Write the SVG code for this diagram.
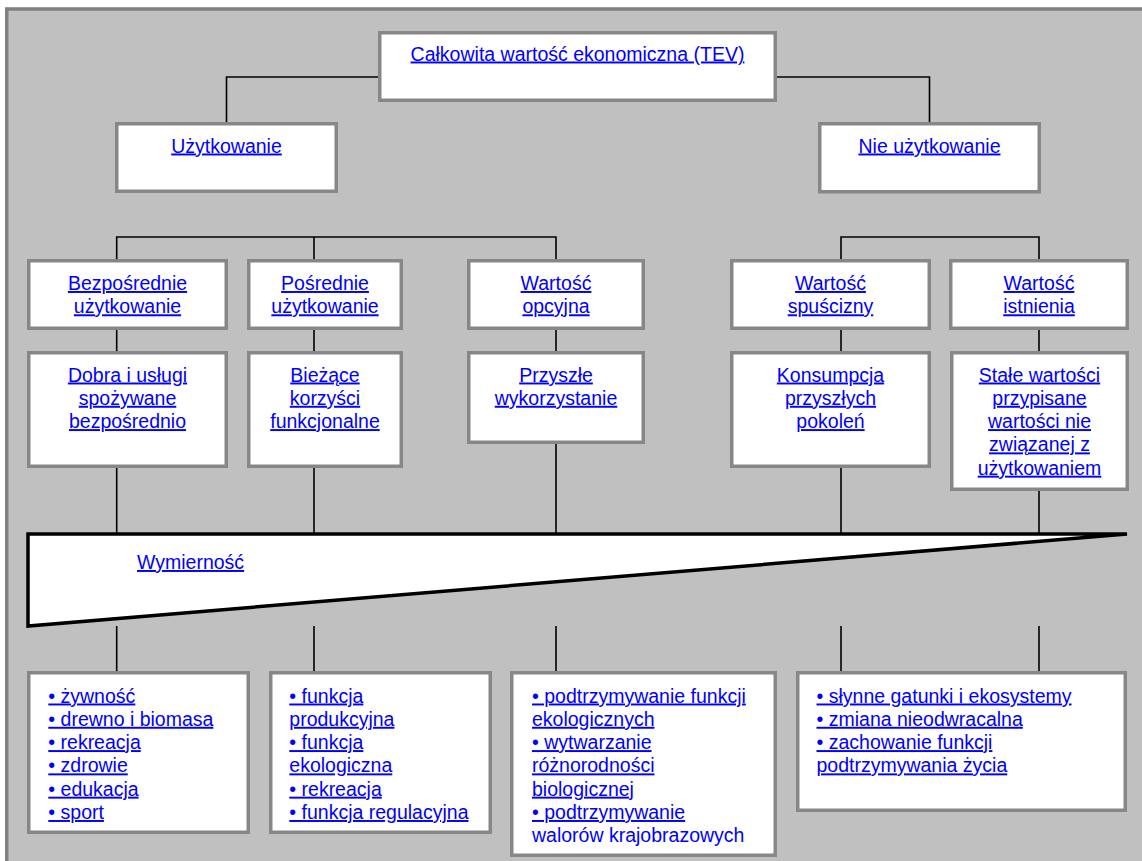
<svg xmlns="http://www.w3.org/2000/svg" width="1142" height="861" viewBox="0 0 1142 861">
  <style>
    .frame { fill: #c0c0c0; stroke: #808080; stroke-width: 3.5; }
    .box { fill: #ffffff; stroke: #878787; stroke-width: 3.5; }
    .lbl { font-family: "Liberation Sans", Arial, sans-serif; font-size: 19.5px; fill: #0000ff; text-decoration: underline; }
    .c { text-anchor: middle; }
    .plain { text-decoration: none; }
    .conn { fill: none; stroke: #000000; stroke-width: 1.6; }
    .wedge { fill: #ffffff; stroke: #000000; stroke-width: 3.5; stroke-linejoin: miter; }
  </style>

  <rect width="1142" height="861" fill="#ffffff"/>
  <rect class="frame" x="6.75" y="9" width="1200" height="900"/>

  <!-- connectors -->
  <g id="connectors">
    <polyline class="conn" points="226.5,122 226.5,77 378,77"/>
    <polyline class="conn" points="777,77 929.5,77 929.5,122"/>

    <polyline class="conn" points="116.7,259 116.7,237 556,237 556,259"/>
    <line class="conn" x1="314" y1="237" x2="314" y2="259"/>
    <polyline class="conn" points="841,259 841,237 1039,237 1039,259"/>

    <line class="conn" x1="116.7" y1="330" x2="116.7" y2="351"/>
    <line class="conn" x1="314" y1="330" x2="314" y2="351"/>
    <line class="conn" x1="556" y1="330" x2="556" y2="351"/>
    <line class="conn" x1="841" y1="330" x2="841" y2="351"/>
    <line class="conn" x1="1039" y1="330" x2="1039" y2="351"/>

    <line class="conn" x1="116.7" y1="468" x2="116.7" y2="534"/>
    <line class="conn" x1="314" y1="468" x2="314" y2="534"/>
    <line class="conn" x1="556" y1="444" x2="556" y2="534"/>
    <line class="conn" x1="841" y1="468" x2="841" y2="534"/>
    <line class="conn" x1="1039" y1="491" x2="1039" y2="534"/>

    <line class="conn" x1="116.7" y1="626" x2="116.7" y2="671"/>
    <line class="conn" x1="314" y1="626" x2="314" y2="671"/>
    <line class="conn" x1="556" y1="626" x2="556" y2="671"/>
    <line class="conn" x1="841" y1="626" x2="841" y2="671"/>
    <line class="conn" x1="1039" y1="626" x2="1039" y2="671"/>
  </g>

  <!-- measurability wedge -->
  <g id="wymiernosc">
    <polygon class="wedge" points="28,534 1127,534 28,626"/>
    <text class="lbl" x="137" y="569">Wymierność</text>
  </g>

  <g id="tev">
    <rect class="box" x="379.75" y="32.75" width="395.5" height="67.5"/>
    <text class="lbl c" x="577.5" y="60.5">Całkowita wartość ekonomiczna (TEV)</text>
  </g>

  <g id="uzytkowanie">
    <rect class="box" x="116.75" y="123.75" width="219.5" height="67.5"/>
    <text class="lbl c" x="226.5" y="152.5">Użytkowanie</text>
  </g>

  <g id="nie-uzytkowanie">
    <rect class="box" x="819.75" y="123.75" width="219.5" height="68"/>
    <text class="lbl c" x="929.5" y="152.5">Nie użytkowanie</text>
  </g>

  <g id="bezposrednie">
    <rect class="box" x="28.75" y="260.75" width="197.5" height="67.5"/>
    <text class="lbl c" x="127.5" y="290">Bezpośrednie</text>
    <text class="lbl c" x="127.5" y="313.3">użytkowanie</text>
  </g>

  <g id="posrednie">
    <rect class="box" x="248.75" y="260.75" width="152.5" height="67.5"/>
    <text class="lbl c" x="325" y="290">Pośrednie</text>
    <text class="lbl c" x="325" y="313.3">użytkowanie</text>
  </g>

  <g id="opcyjna">
    <rect class="box" x="468.75" y="260.75" width="174.5" height="67.5"/>
    <text class="lbl c" x="556" y="290">Wartość</text>
    <text class="lbl c" x="556" y="313.3">opcyjna</text>
  </g>

  <g id="spuscizny">
    <rect class="box" x="731.75" y="260.75" width="197.5" height="67.5"/>
    <text class="lbl c" x="830.5" y="290">Wartość</text>
    <text class="lbl c" x="830.5" y="313.3">spuścizny</text>
  </g>

  <g id="istnienia">
    <rect class="box" x="950.75" y="260.75" width="176.5" height="67.5"/>
    <text class="lbl c" x="1039" y="290">Wartość</text>
    <text class="lbl c" x="1039" y="313.3">istnienia</text>
  </g>

  <g id="dobra-uslugi">
    <rect class="box" x="28.75" y="352.75" width="197.5" height="113.5"/>
    <text class="lbl c" x="127.5" y="381.5">Dobra i usługi</text>
    <text class="lbl c" x="127.5" y="404.8">spożywane</text>
    <text class="lbl c" x="127.5" y="428.1">bezpośrednio</text>
  </g>

  <g id="biezace">
    <rect class="box" x="248.75" y="352.75" width="152.5" height="113.5"/>
    <text class="lbl c" x="325" y="381.5">Bieżące</text>
    <text class="lbl c" x="325" y="404.8">korzyści</text>
    <text class="lbl c" x="325" y="428.1">funkcjonalne</text>
  </g>

  <g id="przyszle">
    <rect class="box" x="468.75" y="352.75" width="174.5" height="89.5"/>
    <text class="lbl c" x="556" y="381.5">Przyszłe</text>
    <text class="lbl c" x="556" y="404.8">wykorzystanie</text>
  </g>

  <g id="konsumpcja">
    <rect class="box" x="731.75" y="352.75" width="197.5" height="113.5"/>
    <text class="lbl c" x="830.5" y="381.5">Konsumpcja</text>
    <text class="lbl c" x="830.5" y="404.8">przyszłych</text>
    <text class="lbl c" x="830.5" y="428.1">pokoleń</text>
  </g>

  <g id="stale-wartosci">
    <rect class="box" x="951.75" y="352.75" width="175.5" height="136.5"/>
    <text class="lbl c" x="1039.5" y="381.5">Stałe wartości</text>
    <text class="lbl c" x="1039.5" y="404.8">przypisane</text>
    <text class="lbl c" x="1039.5" y="428.1">wartości nie</text>
    <text class="lbl c" x="1039.5" y="451.4">związanej z</text>
    <text class="lbl c" x="1039.5" y="474.7">użytkowaniem</text>
  </g>

  <g id="lista-bezposrednie">
    <rect class="box" x="28.75" y="672.75" width="219.5" height="159.5"/>
    <text class="lbl" x="48.3" y="702.5">• żywność</text>
    <text class="lbl" x="48.3" y="725.8">• drewno i biomasa</text>
    <text class="lbl" x="48.3" y="749.1">• rekreacja</text>
    <text class="lbl" x="48.3" y="772.4">• zdrowie</text>
    <text class="lbl" x="48.3" y="795.7">• edukacja</text>
    <text class="lbl" x="48.3" y="819">• sport</text>
  </g>

  <g id="lista-posrednie">
    <rect class="box" x="270.75" y="672.75" width="219.5" height="159.5"/>
    <text class="lbl" x="289.3" y="702.5">• funkcja</text>
    <text class="lbl" x="289.3" y="725.8">produkcyjna</text>
    <text class="lbl" x="289.3" y="749.1">• funkcja</text>
    <text class="lbl" x="289.3" y="772.4">ekologiczna</text>
    <text class="lbl" x="289.3" y="795.7">• rekreacja</text>
    <text class="lbl" x="289.3" y="819">• funkcja regulacyjna</text>
  </g>

  <g id="lista-opcyjna">
    <rect class="box" x="511.75" y="672.75" width="263.5" height="182.5"/>
    <text class="lbl" x="532" y="702.5">• podtrzymywanie funkcji</text>
    <text class="lbl" x="532" y="725.8">ekologicznych</text>
    <text class="lbl" x="532" y="749.1">• wytwarzanie</text>
    <text class="lbl" x="532" y="772.4">różnorodności</text>
    <text class="lbl" x="532" y="795.7">biologicznej</text>
    <text class="lbl" x="532" y="819">• podtrzymywanie</text>
    <text class="lbl plain" x="532" y="842.3">walorów krajobrazowych</text>
  </g>

  <g id="lista-nieuzytkowe">
    <rect class="box" x="797.75" y="672.75" width="327.5" height="137.5"/>
    <text class="lbl" x="816.5" y="702.5">• słynne gatunki i ekosystemy</text>
    <text class="lbl" x="816.5" y="725.8">• zmiana nieodwracalna</text>
    <text class="lbl" x="816.5" y="749.1">• zachowanie funkcji</text>
    <text class="lbl" x="816.5" y="772.4">podtrzymywania życia</text>
  </g>
</svg>
